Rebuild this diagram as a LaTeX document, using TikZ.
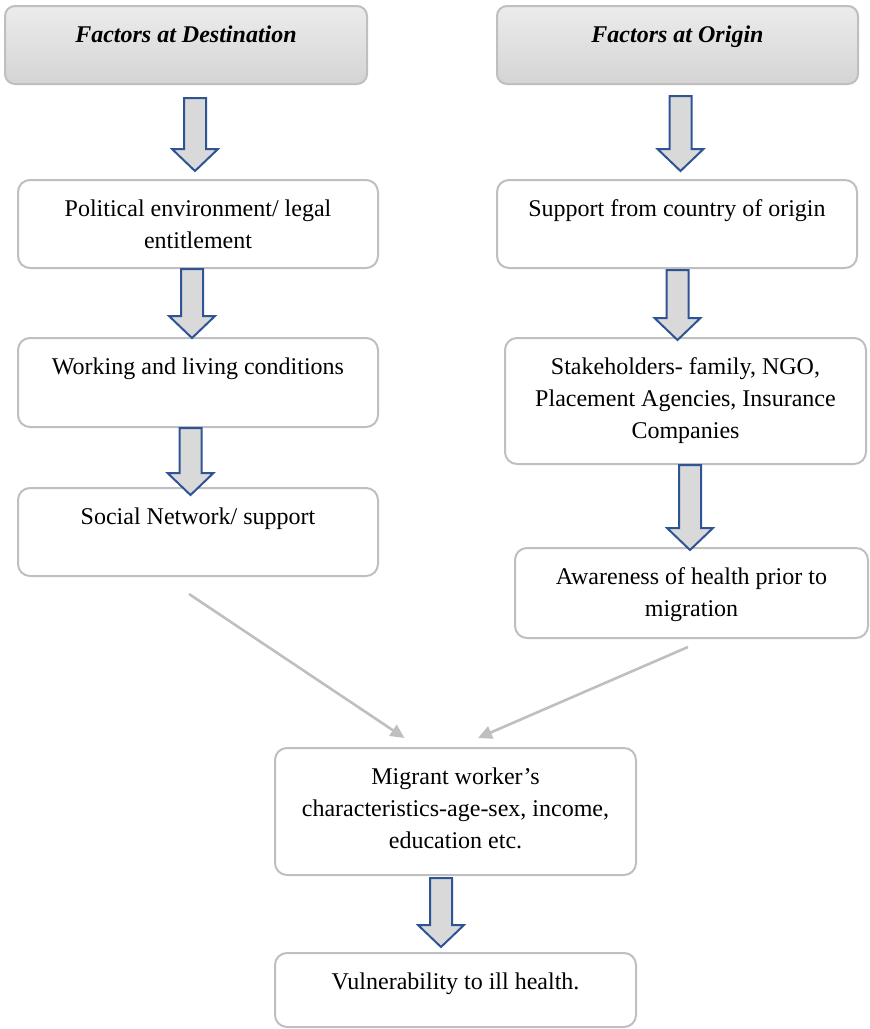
\documentclass[tikz,border=0pt]{standalone}
\usepackage{fontspec}
\setmainfont{Liberation Serif}
\usetikzlibrary{arrows.meta,calc}
\definecolor{boxGray}{RGB}{191,191,191}
\definecolor{arrBlue}{RGB}{47,84,150}
\definecolor{arrFill}{RGB}{217,217,217}
\definecolor{headTop}{RGB}{236,236,236}
\definecolor{headBot}{RGB}{212,212,212}
\tikzset{
  downarr/.pic={
    \draw[arrBlue,fill=arrFill,line width=1pt,line join=miter]
      (-11,0) -- (11,0) -- (11,#1-22) -- (23,#1-22) -- (0,#1)
      -- (-23,#1-22) -- (-11,#1-22) -- cycle;
  }
}

\begin{document}
\begin{tikzpicture}[x=0.5pt,y=-0.5pt,
          box/.style={draw=boxGray,line width=1pt,rounded corners=6pt,inner sep=0pt},
          head/.style={box,top color=headTop,bottom color=headBot,rounded corners=5pt},
          txt/.style={anchor=north,yshift=-10pt,inner sep=0pt,align=center,
                      font=\fontsize{12}{16.1}\selectfont},
          htxt/.style={txt,font=\fontsize{12}{16.1}\selectfont\bfseries\itshape},
          link/.style={boxGray,line width=1.3pt,-{Triangle[length=7pt,width=6.5pt]}}]
  \useasboundingbox (0,0) rectangle (870,1029);
  % headers
  \node[head,minimum width=181pt,minimum height=39pt,
        label={[htxt]north:Factors at Destination}] (dest) at (186,45) {};
  \node[head,minimum width=180.5pt,minimum height=39pt,
        label={[htxt]north:Factors at Origin}] (orig) at (677.5,45) {};
  % destination side
  \node[box,minimum width=180pt,minimum height=44pt,
        label={[txt]north:{Political environment/ legal\\entitlement}}] (pol) at (198,224) {};
  \node[box,minimum width=180pt,minimum height=44.5pt,
        label={[txt]north:Working and living conditions}] (work) at (198,382.5) {};
  \node[box,minimum width=180pt,minimum height=44pt,
        label={[txt]north:Social Network/ support}] (soc) at (198,532) {};
  % origin side
  \node[box,minimum width=180pt,minimum height=44pt,
        label={[txt]north:Support from country of origin}] (supp) at (677,224) {};
  \node[box,minimum width=180.5pt,minimum height=63pt,
        label={[txt]north:{Stakeholders- family, NGO,\\Placement Agencies, Insurance\\Companies}}] (stake) at (685.5,401) {};
  \node[box,minimum width=176.5pt,minimum height=45pt,
        label={[txt]north:{Awareness of health prior to\\migration}}] (aware) at (691.5,593) {};
  % bottom
  \node[box,minimum width=180.5pt,minimum height=63.5pt,
        label={[txt]north:{Migrant worker’s\\characteristics-age-sex, income,\\education etc.}}] (migr) at (455.5,811.5) {};
  \node[box,minimum width=180.5pt,minimum height=37pt,
        label={[txt]north:Vulnerability to ill health.}] (vuln) at (455.5,990) {};
  % block arrows
  \pic at ([shift={(9,13)}]dest.south) {downarr=73};
  \pic at ([shift={(-6,0)}]pol.south) {downarr=69};
  \pic at ([shift={(-7.5,0)}]work.south) {downarr=67};
  \pic at ([shift={(3,11)}]orig.south) {downarr=75};
  \pic at ([shift={(0.5,1)}]supp.south) {downarr=70};
  \pic at ([shift={(4.5,0)}]stake.south) {downarr=85};
  \pic at ([shift={(-14.5,2)}]migr.south) {downarr=69};
  % converging links
  \draw[link] ([shift={(-9,17)}]soc.south) -- ([shift={(-51,-9)}]migr.north);
  \draw[link] ([shift={(-3.5,8)}]aware.south) -- ([shift={(22.5,-9)}]migr.north);
\end{tikzpicture}
\end{document}
